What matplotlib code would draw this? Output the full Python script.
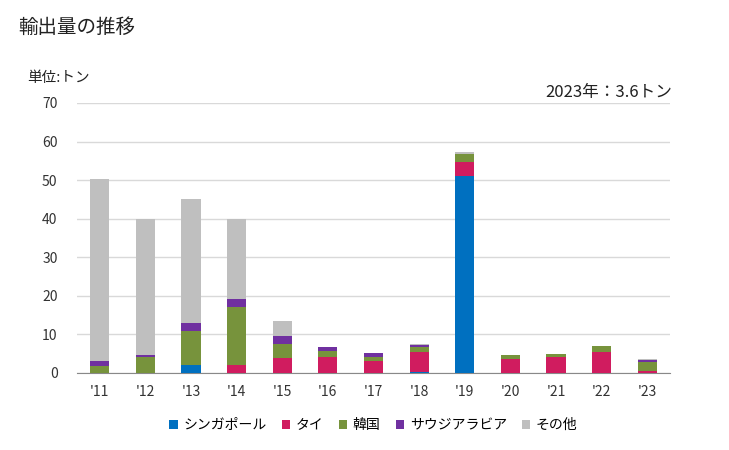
import matplotlib
matplotlib.use("Agg")
import matplotlib.pyplot as plt
import numpy as np

plt.rcParams["font.family"] = ["Noto Sans CJK JP", "DejaVu Sans"]

years = ["'11", "'12", "'13", "'14", "'15", "'16", "'17", "'18", "'19", "'20", "'21", "'22", "'23"]
singapore = [0.0, 0.0, 2.1, 0.0, 0.0, 0.0, 0.0, 0.35, 51.2, 0.0, 0.0, 0.0, 0.0]
thai = [0.0, 0.0, 0.0, 2.1, 3.9, 4.1, 3.1, 5.05, 3.6, 3.6, 4.1, 5.4, 0.5]
korea = [1.8, 4.1, 8.8, 15.0, 3.6, 1.6, 1.0, 1.3, 2.1, 1.05, 0.8, 1.6, 2.3]
saudi = [1.3, 0.55, 2.0, 2.0, 2.1, 1.0, 1.1, 0.5, 0.0, 0.0, 0.0, 0.0, 0.5]
others = [47.1, 35.15, 32.1, 20.7, 3.8, 0.0, 0.0, 0.3, 0.3, 0.0, 0.0, 0.0, 0.3]

series = [
    ("シンガポール", singapore, "#0070C0"),
    ("タイ", thai, "#D01C5F"),
    ("韓国", korea, "#77933C"),
    ("サウジアラビア", saudi, "#7030A0"),
    ("その他", others, "#BFBFBF"),
]

fig = plt.figure(figsize=(7.29, 4.5), dpi=100)
ax = fig.add_axes([77 / 729, 1 - 373 / 450, 593 / 729, 270 / 450])

x = np.arange(len(years))
bottom = np.zeros(len(years))
for name, vals, color in series:
    vals = np.array(vals)
    ax.bar(x, vals, width=0.42, bottom=bottom, color=color, label=name, zorder=3)
    bottom += vals

ax.set_xlim(-0.5, len(years) - 0.5)
ax.set_ylim(0, 70)
ax.set_yticks(range(0, 71, 10))
ax.set_xticks(x)
ax.set_xticklabels(years)
ax.grid(axis="y", color="#D9D9D9", lw=1, zorder=0)
for s in ["top", "right", "left"]:
    ax.spines[s].set_visible(False)
ax.spines["bottom"].set_color("#898989")
ax.tick_params(axis="both", length=0, labelsize=10, colors="#333333")
ax.tick_params(axis="x", pad=9)
ax.tick_params(axis="y", pad=14)

fig.text(18 / 729, 1 - 27 / 450, "輸出量の推移", fontsize=14, va="center", ha="left", color="#222222")
fig.text(27 / 729, 1 - 78 / 450, "単位:トン", fontsize=10.5, va="center", ha="left", color="#222222")
fig.text(672 / 729, 1 - 92 / 450, "2023年：3.6トン", fontsize=12, va="center", ha="right", color="#222222")

ax.legend(loc="center", bbox_to_anchor=(0.5, -52 / 270), ncol=5, frameon=False,
          fontsize=10, handlelength=0.6, handleheight=0.6, handletextpad=0.4, columnspacing=1.1)

fig.savefig("out.png", dpi=100)
